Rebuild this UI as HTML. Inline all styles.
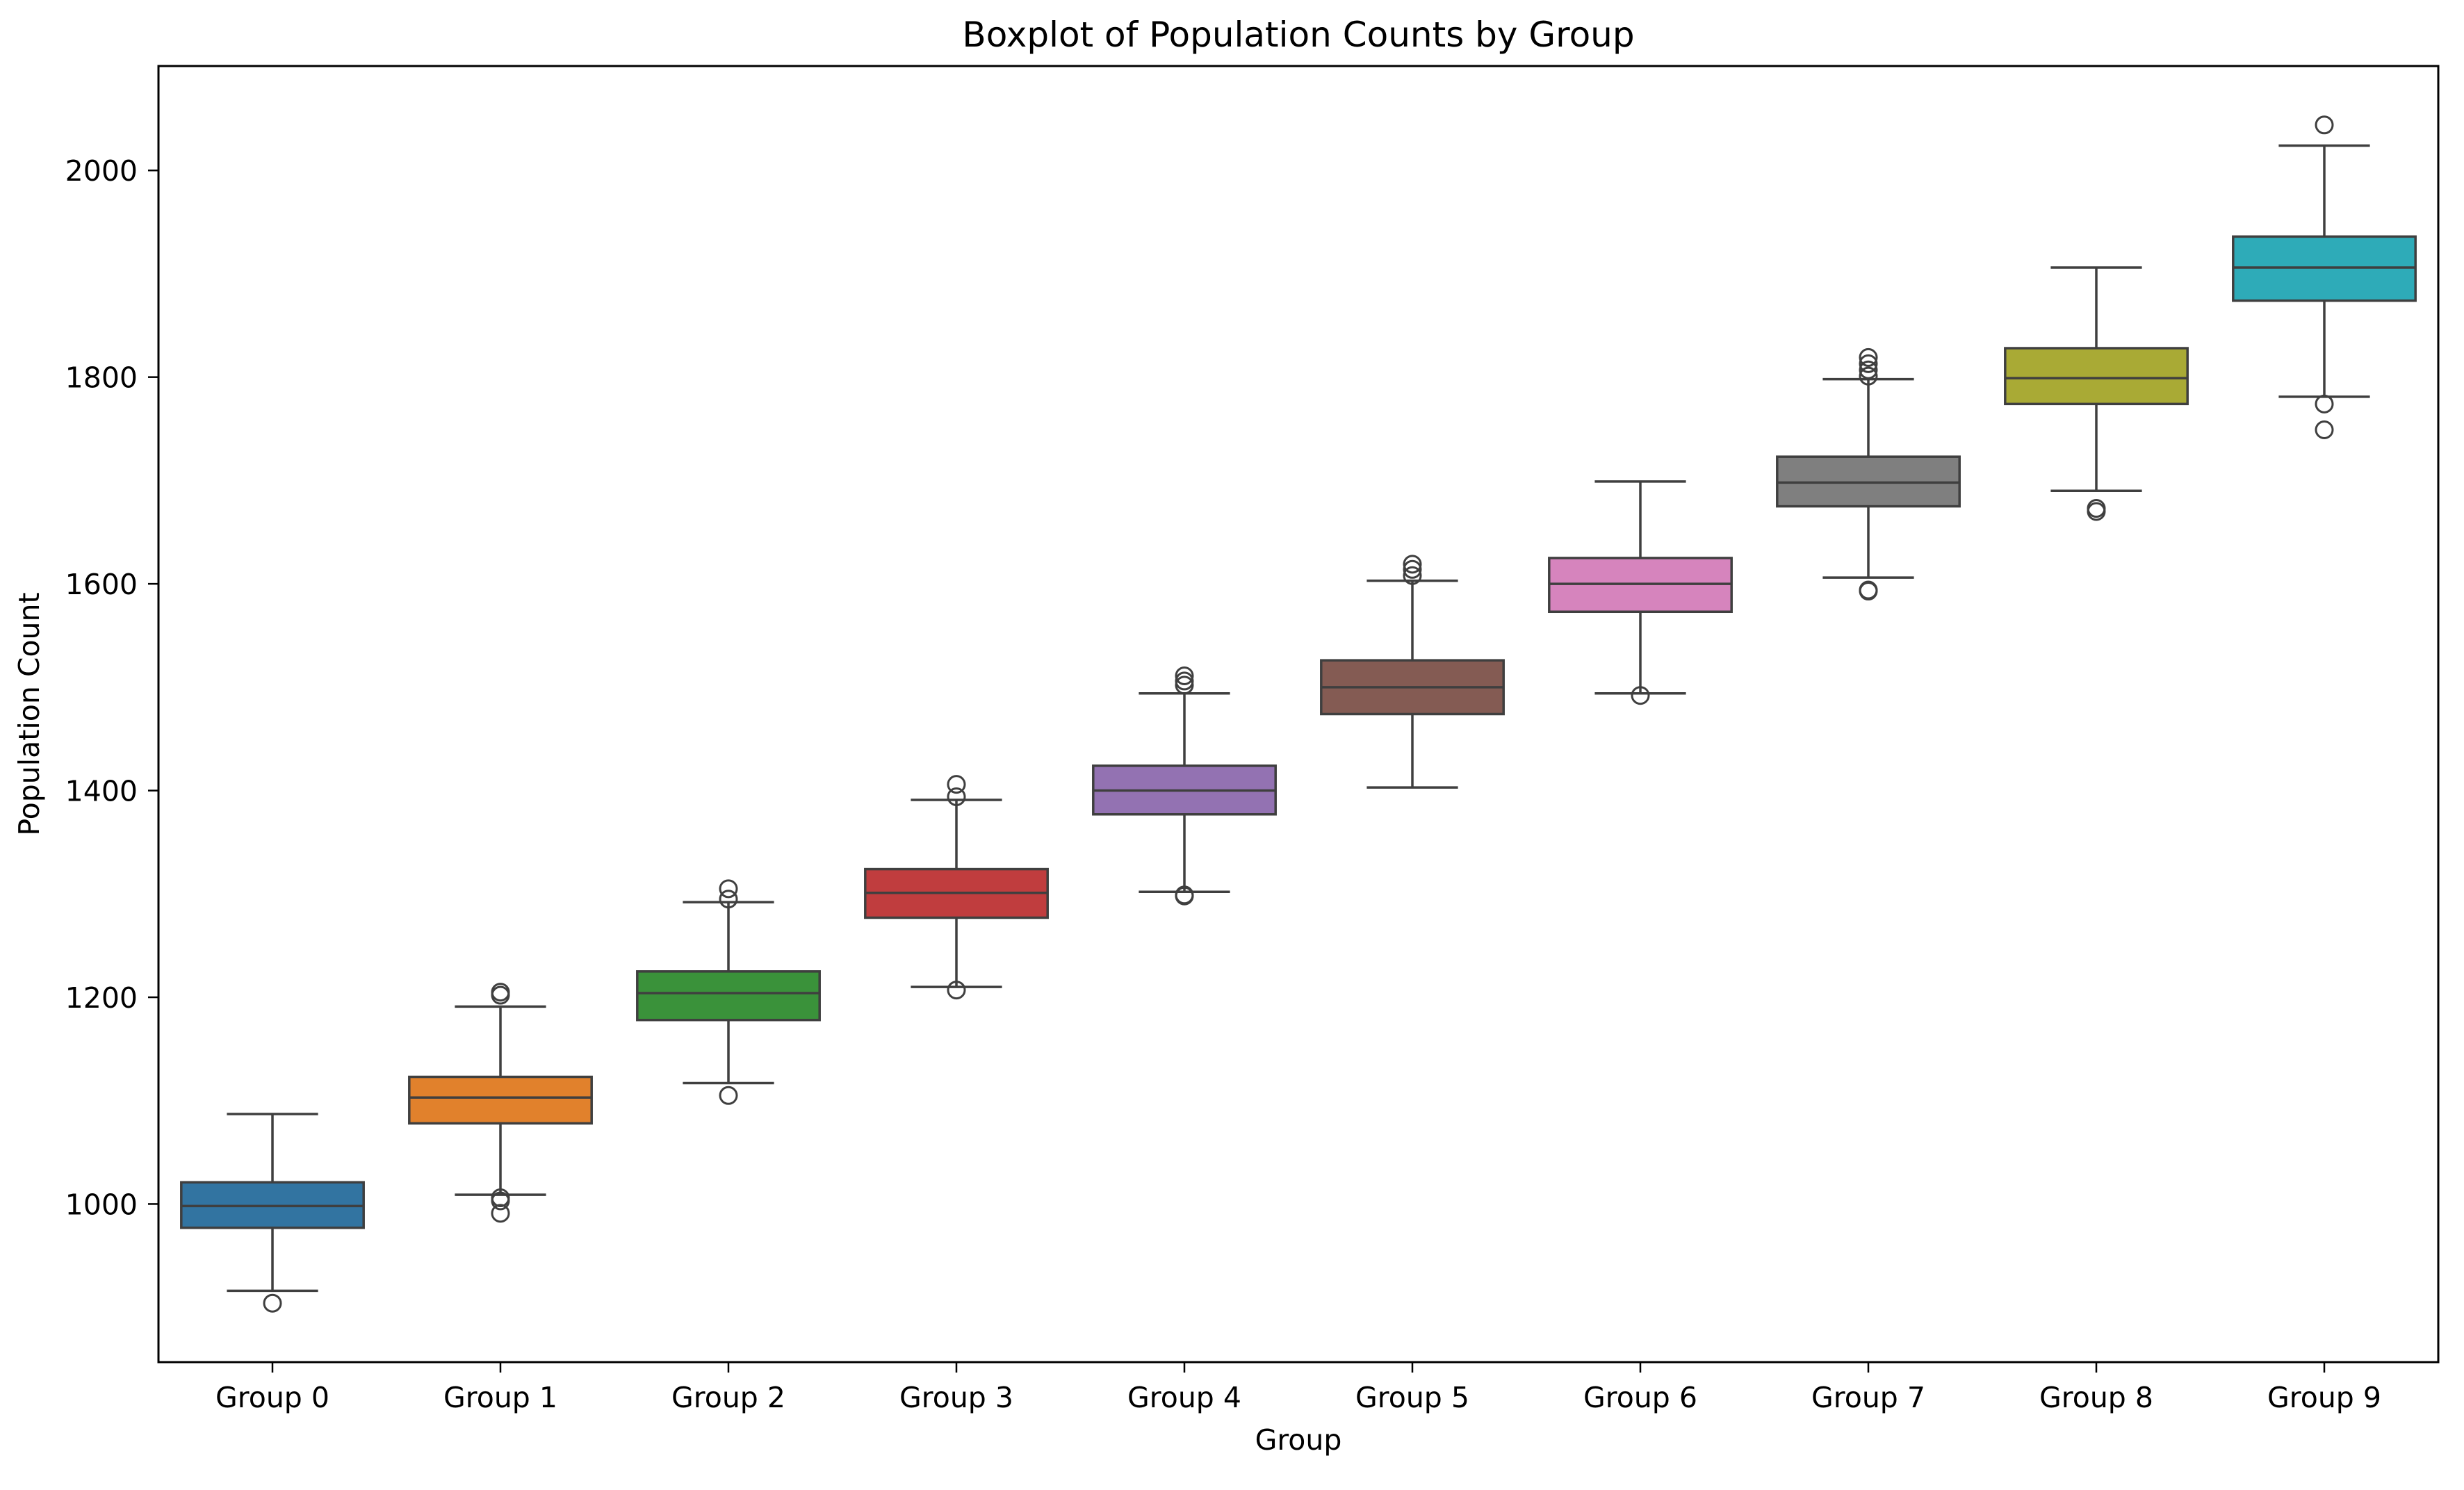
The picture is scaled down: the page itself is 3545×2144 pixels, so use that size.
<!DOCTYPE html>
<html><head><meta charset="utf-8"><style>
html,body{margin:0;padding:0;background:#fff;}
svg{display:block;font-family:"DejaVu Sans","Liberation Sans",sans-serif;}
</style></head><body>
<svg id="chart" width="3545" height="2144" viewBox="0 0 3545 2144" xmlns="http://www.w3.org/2000/svg">
<rect width="3545" height="2144" fill="#fff"/>
<g id="plot"></g>
</svg>
<script>
const categories = ["Group 0","Group 1","Group 2","Group 3","Group 4","Group 5","Group 6","Group 7","Group 8","Group 9"];
const whiskerLow = [916,1009,1117,1210,1302,1403,1494,1606,1690,1781];
const q1 = [977,1078,1178,1277,1377,1474,1573,1675,1774,1874];
const medians = [998,1103,1204,1301,1400,1500,1600,1698,1799,1906];
const q3 = [1021,1123,1225,1324,1424,1526,1625,1723,1828,1936];
const whiskerHigh = [1087,1191,1292,1391,1494,1603,1699,1798,1906,2024];
const outliers = [[904],[1205,1202,1006,1003,991],[1305,1295,1105],[1406,1394,1207],[1511,1506,1502,1299,1298],[1619,1614,1608],[1492],[1819,1813,1807,1801,1594,1593],[1673,1670],[2044,1774,1749]];
const colors = ["#3274a1","#e1812c","#3a923a","#c03d3e","#9372b2","#845b53","#d684bd","#7f7f7f","#a9aa35","#2eabb8"];
const yTicks = [1000,1200,1400,1600,1800,2000];

const L=228,R=3508,T=95,B=1960, yMin=847, yMax=2101;
const x = i => L + (i+0.5)*(R-L)/categories.length;
const y = v => B - (v-yMin)/(yMax-yMin)*(B-T);
const band=(R-L)/categories.length, bw=band*0.8;
const NS="http://www.w3.org/2000/svg";
const g=document.getElementById('plot');
function mk(tag,attrs,parent){const e=document.createElementNS(NS,tag);for(const k in attrs)e.setAttribute(k,attrs[k]);(parent||g).appendChild(e);return e;}
const LC="#3f3f3f", LW=3.5;

categories.forEach((c,i)=>{
  const grp=mk('g',{});
  
  
  const cx=x(i);
  mk('line',{x1:cx,x2:cx,y1:y(whiskerLow[i]),y2:y(q1[i]),stroke:LC,'stroke-width':LW},grp);
  mk('line',{x1:cx,x2:cx,y1:y(q3[i]),y2:y(whiskerHigh[i]),stroke:LC,'stroke-width':LW},grp);
  mk('line',{x1:cx-bw/4,x2:cx+bw/4,y1:y(whiskerLow[i]),y2:y(whiskerLow[i]),stroke:LC,'stroke-width':LW},grp);
  mk('line',{x1:cx-bw/4,x2:cx+bw/4,y1:y(whiskerHigh[i]),y2:y(whiskerHigh[i]),stroke:LC,'stroke-width':LW},grp);
  mk('rect',{x:cx-bw/2,y:y(q3[i]),width:bw,height:y(q1[i])-y(q3[i]),fill:colors[i],stroke:LC,'stroke-width':LW},grp);
  mk('line',{x1:cx-bw/2,x2:cx+bw/2,y1:y(medians[i]),y2:y(medians[i]),stroke:LC,'stroke-width':LW},grp);
  outliers[i].forEach(v=>{
    const o=mk('circle',{cx:cx,cy:y(v),r:12,fill:'none',stroke:LC,'stroke-width':3},grp);
    
    
  });
  const t=mk('line',{x1:cx,x2:cx,y1:B,y2:B+15,stroke:'#000','stroke-width':2.5});
  
  
  const lab=mk('text',{x:cx,y:2025,'text-anchor':'middle','font-size':41,fill:'#000'});
  lab.textContent=c;
  
  
});
yTicks.forEach(v=>{
  const t=mk('line',{x1:L-15,x2:L,y1:y(v),y2:y(v),stroke:'#000','stroke-width':2.5});
  
  
  const lab=mk('text',{x:L-30,y:y(v)+15,'text-anchor':'end','font-size':41,fill:'#000'});
  lab.textContent=v;
  
  
});
const fr=mk('rect',{x:L,y:T,width:R-L,height:B-T,fill:'none',stroke:'#000','stroke-width':3});


const ti=mk('text',{x:(L+R)/2,y:67,'text-anchor':'middle','font-size':50,fill:'#000'});
ti.textContent='Boxplot of Population Counts by Group';


const xl=mk('text',{x:(L+R)/2,y:2086,'text-anchor':'middle','font-size':41,fill:'#000'});
xl.textContent='Group';


const yl=mk('text',{x:0,y:0,'text-anchor':'middle','font-size':41,fill:'#000',transform:'translate(56,'+((T+B)/2)+') rotate(-90)'});
yl.textContent='Population Count';


</script>
</body></html>
